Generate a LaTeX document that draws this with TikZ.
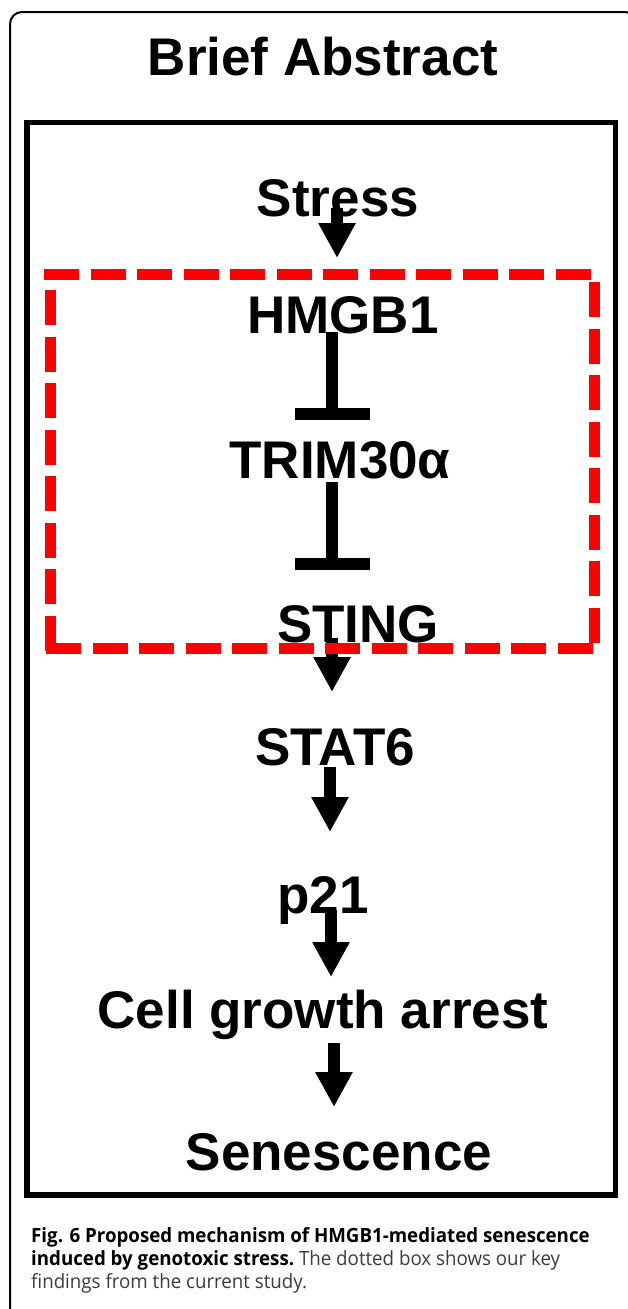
\documentclass[tikz,border=0pt]{standalone}
\usepackage{fontspec}
\setmainfont{Liberation Sans}
\newfontfamily\capfont[FakeStretch=0.955]{Open Sans}
\usetikzlibrary{arrows.meta}
\definecolor{capgray}{RGB}{60,60,60}
\begin{document}
\begin{tikzpicture}[x=1pt,y=-1pt,
  lbl/.style={anchor=base,inner sep=0pt,font=\fontsize{53}{60}\selectfont\bfseries},
  act/.style={line width=12pt,-{Triangle[width=35pt,length=35pt]}},
  inh/.style={line width=12pt,-{Bar[width=75pt]}},
  redd/.style={draw=red,line width=11pt,dash pattern=on 35pt off 11.5pt},
  capt/.style={anchor=base west,inner sep=0pt,font=\capfont\fontsize{19.6}{23}\selectfont}]
\useasboundingbox (0,0) rectangle (627,1309);
\fill[white] (0,0) rectangle (627,1309);
% outer frame
\draw[line width=2pt,rounded corners=12pt] (10,12) rectangle (637,1322);
% inner frame
\draw[line width=5.5pt] (27,122.5) rectangle (615.5,1195);
% labels
\node[lbl] (title) at (323,75) {Brief Abstract};
\node[lbl] (stress) at (338,216) {Stress};
\node[lbl] (hmgb1) at (343,333) {HMGB1};
\node[lbl] (trim) at (340,478) {TRIM30α};
\node[lbl] (sting) at (358,642) {STING};
\node[lbl] (stat6) at (335,765) {STAT6};
\node[lbl] (p21) at (323,913) {p21};
\node[lbl] (cga) at (323,1028) {Cell growth arrest};
\node[lbl] (sen) at (339,1170) {Senescence};
% connector end points
\coordinate (a1s) at (337,208); \coordinate (a1e) at (337,258);
\coordinate (i1s) at (332,332); \coordinate (i1e) at (332,420);
\coordinate (i2s) at (332,482); \coordinate (i2e) at (332,570);
\coordinate (a2s) at (332,638); \coordinate (a2e) at (332,692);
\coordinate (a3s) at (330,767); \coordinate (a3e) at (330,832);
\coordinate (a4s) at (331,910); \coordinate (a4e) at (331,977);
\coordinate (a5s) at (334,1043); \coordinate (a5e) at (334,1107);
\draw[act] (a1s) -- (a1e);
\draw[inh] (i1s) -- (i1e);
\draw[inh] (i2s) -- (i2e);
\draw[act] (a2s) -- (a2e);
\draw[act] (a3s) -- (a3e);
\draw[act] (a4s) -- (a4e);
\draw[act] (a5s) -- (a5e);
% red dashed box
\draw[redd] (44,274) -- (598,274);
\draw[redd] (594,282) -- (594,648);
\draw[redd] (50,290) -- (50,653);
\draw[redd] (46,648) -- (594,648);
% caption
\node[capt] (cap1) at (31,1242) {\bfseries Fig. 6 Proposed mechanism of HMGB1-mediated senescence};
\node[capt] (cap2) at (31,1265) {{\bfseries induced by genotoxic stress.}\ {\color{capgray}The dotted box shows our key}};
\node[capt,text=capgray] (cap3) at (31,1288) {findings from the current study.};
\end{tikzpicture}
\end{document}
